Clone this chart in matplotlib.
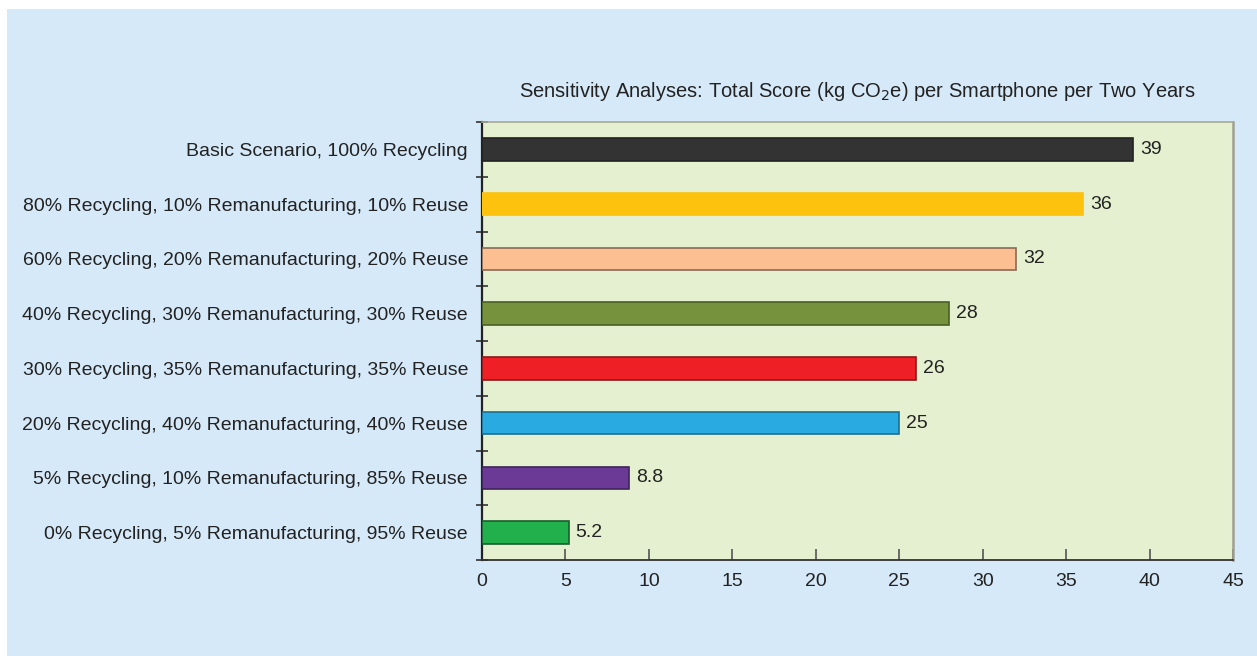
import matplotlib
matplotlib.use("Agg")
import matplotlib.pyplot as plt
from matplotlib.patches import Rectangle

plt.rcParams['font.family'] = ['Liberation Sans', 'DejaVu Sans']

scenarios = [
    "Basic Scenario, 100% Recycling",
    "80% Recycling, 10% Remanufacturing, 10% Reuse",
    "60% Recycling, 20% Remanufacturing, 20% Reuse",
    "40% Recycling, 30% Remanufacturing, 30% Reuse",
    "30% Recycling, 35% Remanufacturing, 35% Reuse",
    "20% Recycling, 40% Remanufacturing, 40% Reuse",
    "5% Recycling, 10% Remanufacturing, 85% Reuse",
    "0% Recycling, 5% Remanufacturing, 95% Reuse",
]
scores = [39, 36, 32, 28, 26, 25, 8.8, 5.2]
score_labels = ["39", "36", "32", "28", "26", "25", "8.8", "5.2"]
x_ticks = [0, 5, 10, 15, 20, 25, 30, 35, 40, 45]

fill_colors = ["#333333", "#FDC20E", "#FCBF92", "#76923C",
               "#EE2026", "#29ABE2", "#6B3A96", "#21B04B"]
edge_colors = ["#222222", "#FDC20E", "#8A6A55", "#4A5E26",
               "#8A1A1A", "#1F6E90", "#3E2458", "#1A5E2E"]

fig = plt.figure(figsize=(12.57, 6.56), dpi=100)
fig.patch.set_facecolor("white")
fig.patches.append(Rectangle((7 / 1257, 0), 1 - 7 / 1257, 1 - 9 / 656,
                             transform=fig.transFigure, facecolor="#D6E9F8",
                             edgecolor="none", zorder=-10))

ax = fig.add_axes([482 / 1257, 1 - 560 / 656, (1233 - 482) / 1257, (560 - 122) / 656])
ax.set_facecolor("#E4F0CF")

ypos = list(range(len(scenarios)))
ax.barh(ypos, scores, height=0.41, color=fill_colors, edgecolor=edge_colors,
        linewidth=1.2, zorder=3)
for y, v, lab in zip(ypos, scores, score_labels):
    ax.annotate(lab, (v, y), xytext=(5, 0), textcoords="offset points",
                va="center", ha="left", fontsize=14, color="#222222")

ax.set_xlim(0, 45)
ax.set_ylim(len(scenarios) - 0.5, -0.5)
ax.set_xticks(x_ticks)
ax.set_xticklabels([str(t) for t in x_ticks])
ax.set_yticks(ypos)
ax.set_yticklabels(scenarios)
ax.set_yticks([i - 0.5 for i in range(len(scenarios) + 1)], minor=True)

ax.tick_params(axis="y", which="major", length=0, pad=10, labelsize=14,
               labelcolor="#222222")
ax.tick_params(axis="y", which="minor", length=9, direction="inout",
               width=1.2, color="#333333")
ax.tick_params(axis="x", which="major", direction="in", length=8, width=1.2,
               color="#555555", pad=9, labelsize=14, labelcolor="#222222")

ax.spines["left"].set_color("#222222")
ax.spines["left"].set_linewidth(1.6)
ax.spines["bottom"].set_color("#333333")
ax.spines["bottom"].set_linewidth(1.3)
ax.spines["top"].set_color("#A8A89A")
ax.spines["top"].set_linewidth(1.2)
ax.spines["right"].set_color("#A0A092")
ax.spines["right"].set_linewidth(1.8)

ax.set_title("Sensitivity Analyses: Total Score (kg CO$_2$e) per Smartphone per Two Years",
             fontsize=14.5, color="#222222", pad=18)

fig.savefig("out.png", dpi=100)
